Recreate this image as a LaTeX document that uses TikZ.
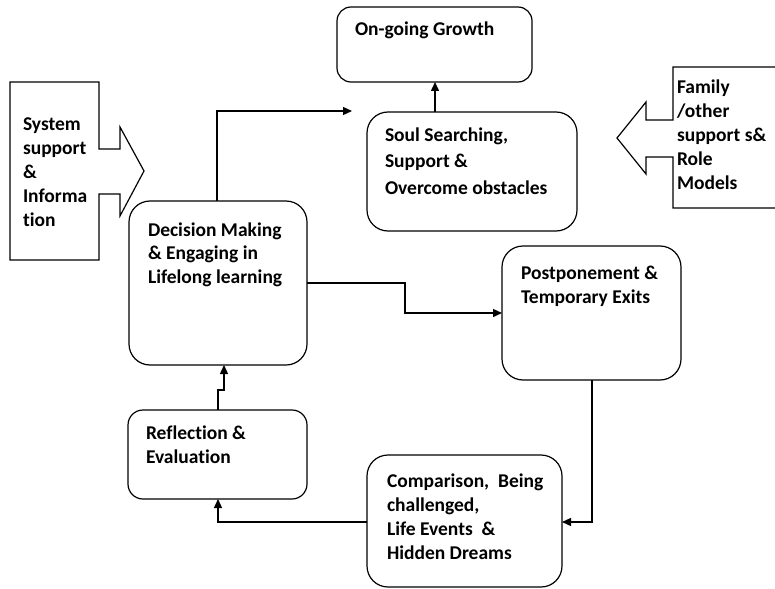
\documentclass[tikz,border=0pt]{standalone}
\usepackage{fontspec}
\setmainfont{Carlito}[BoldFont={Carlito Bold},Ligatures=NoCommon]
\usetikzlibrary{arrows.meta}
\begin{document}
\begin{tikzpicture}[x=1pt,y=-1pt,
  box/.style={draw,line width=1.2pt,anchor=north west,inner sep=0pt,outer sep=0pt,rounded corners=#1},
  box/.default=21pt,
  lbl/.style={anchor=base west,align=left,inner sep=0pt,outer sep=0pt,font=\fontsize{19.5}{#1}\selectfont\bfseries},
  lbl/.default=24,
  arr/.style={line width=1.4pt,-{Triangle[length=9pt,width=8pt]}},
  blk/.style={draw,line width=1.2pt,line join=miter}]
\useasboundingbox (0,0) rectangle (775,588);
% boxes
\node[box=14pt,minimum width=195pt,minimum height=75pt] (grow) at (337,7) {};
\node[box,minimum width=210pt,minimum height=119pt] (soul) at (367,112) {};
\node[box,minimum width=178pt,minimum height=164pt] (dec) at (129,201) {};
\node[box,minimum width=179pt,minimum height=134pt] (post) at (502,246) {};
\node[box=15pt,minimum width=179pt,minimum height=89pt] (refl) at (128,410) {};
\node[box,minimum width=195pt,minimum height=132pt] (comp) at (367,455) {};
% labels (anchored at the baseline of their last line)
\node[lbl] (growT) at (355,36) {On-going Growth};
\node[lbl=26.5] (soulT) at (385,194) {Soul Searching,\\Support \&\\Overcome obstacles};
\node[lbl=23.5] (decT) at (148,283) {Decision Making\\\& Engaging in\\Lifelong learning};
\node[lbl] (postT) at (521,303) {Postponement \&\\Temporary Exits};
\node[lbl] (reflT) at (146,463) {Reflection \&\\Evaluation};
\node[lbl=23.7] (compT) at (387,559) {Comparison,\ \ Being\\challenged,\\Life Events\ \ \&\\Hidden Dreams};
% block arrows
\draw[blk] (10,82) -- (99,82) -- (99,149) -- (120,149) -- (120,127) -- (144,171)
  -- (120,216) -- (120,194) -- (99,194) -- (99,260) -- (10,260) -- cycle;
\node[lbl=23.8] (sysT) at (23,226) {System\\support\\\&\\Informa\\tion};
\draw[blk] (776,67) -- (673,67) -- (673,120) -- (646,120) -- (646,102) -- (617,138)
  -- (646,174) -- (646,157) -- (673,157) -- (673,208) -- (776,208);
\node[lbl=23.8] (famT) at (677,189) {Family\\/other\\support s\&\\Role\\Models};
% connectors
\coordinate (growIn) at (352,111);
\draw[arr] (217,0 |- dec.north) -- (217,111) -- (growIn);
\draw[arr] (435,0 |- soul.north) -- (435,0 |- grow.south);
\draw[arr] (dec.east |- 0,283) -- (405,283) -- (405,313) -- (post.west |- 0,313);
\draw[arr] (592,0 |- post.south) -- (592,522) -- (comp.east |- 0,522);
\draw[arr] (comp.west |- 0,522) -- (218,522) -- (218,0 |- refl.south);
\draw[arr] (218,0 |- refl.north) -- (218,390) -- (224,390) -- (224,0 |- dec.south);
\end{tikzpicture}
\end{document}
